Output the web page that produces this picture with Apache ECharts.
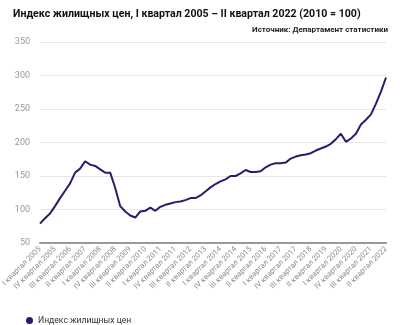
<!DOCTYPE html>
<html>
<head>
<meta charset="utf-8">
<script src="https://cdn.jsdelivr.net/npm/echarts@6/dist/echarts.min.js"></script>
<style>
  html, body { margin: 0; padding: 0; background: #fff; }
  #chart { width: 400px; height: 325px; }
</style>
</head>
<body>
<div id="chart"></div>
<script>
// Quarterly house price index, 2010 = 100
const years = [];
for (let y = 2005; y <= 2022; y++) years.push(y);
const quarterNames = ['I', 'II', 'III', 'IV'];
const categories = [];
years.forEach(function (y) {
  quarterNames.forEach(function (q) {
    if (y === 2022 && (q === 'III' || q === 'IV')) return;
    categories.push(q + ' квартал ' + y);
  });
});

const priceIndex = [
  79, 87, 94, 105, 117, 128, 139, 155, 161, 172,
  167, 165, 160, 155, 155, 132, 105, 97, 91, 88,
  97, 98, 103, 98, 104, 107, 109, 111, 112, 114,
  117, 117, 121, 127, 133, 138, 142, 145, 150, 150,
  154, 159, 156, 156, 157, 163, 167, 169, 169, 170,
  176, 179, 181, 182, 184, 188, 191, 194, 198, 205,
  213, 201, 206, 213, 227, 234, 242, 258, 276, 297
];

const yTicks = { min: 50, max: 350, interval: 50 };

const chart = echarts.init(document.getElementById('chart'), null, { renderer: 'canvas' });
chart.setOption({
  animation: false,
  textStyle: { fontFamily: 'Roboto' },
  title: [
    {
      text: 'Индекс жилищных цен, I квартал 2005 – II квартал 2022 (2010 = 100)',
      left: 8, top: 4,
      textStyle: { fontSize: 10.6, fontWeight: 'bold', color: '#111', fontFamily: 'Roboto' }
    },
    {
      text: 'Источник: Департамент статистики',
      right: 7, top: 21,
      textStyle: { fontSize: 8, fontWeight: 'bold', color: '#222', fontFamily: 'Roboto' }
    }
  ],
  legend: {
    left: 21, top: 311,
    icon: 'circle', itemWidth: 7, itemHeight: 7, itemGap: 6,
    textStyle: { fontSize: 8.6, color: '#333' },
    data: ['Индекс жилищных цен']
  },
  grid: { left: 40, right: 14, top: 42, bottom: 82, containLabel: false, outerBoundsMode: 'none' },
  xAxis: {
    type: 'category',
    data: categories,
    boundaryGap: false,
    axisLine: { lineStyle: { color: '#999', width: 2 } },
    axisTick: { show: false },
    axisLabel: {
      interval: 2, rotate: 45, fontSize: 7.6, color: '#8a8a8a', margin: 5
    }
  },
  yAxis: {
    type: 'value',
    min: yTicks.min, max: yTicks.max, interval: yTicks.interval,
    axisLine: { show: false },
    axisTick: { show: false },
    axisLabel: { fontSize: 9, color: '#999', margin: 10 },
    splitLine: { lineStyle: { color: '#e6e6e6', width: 1 } }
  },
  series: [{
    name: 'Индекс жилищных цен',
    type: 'line',
    data: priceIndex,
    showSymbol: false,
    symbol: 'circle',
    itemStyle: { color: '#2e1a6d' },
    lineStyle: { color: '#2e1a6d', width: 2 }
  }]
});
</script>
</body>
</html>
